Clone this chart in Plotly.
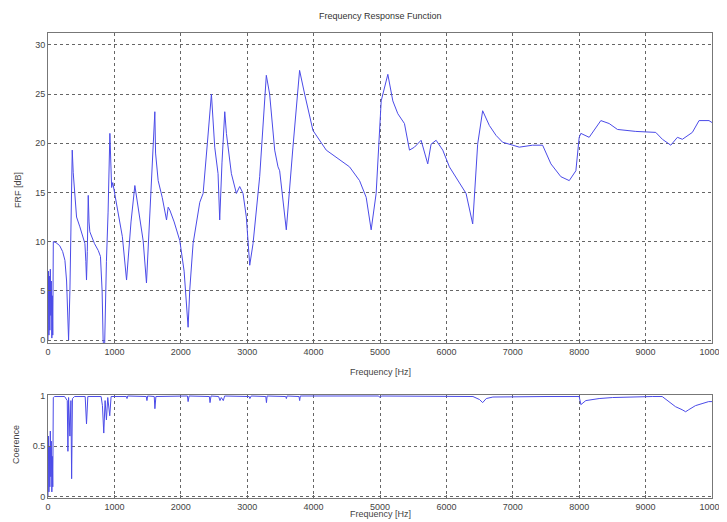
import plotly.graph_objects as go
from plotly.subplots import make_subplots

# FRF magnitude (dB) vs frequency (Hz)
frf_freq = [0, 8, 14, 20, 28, 35, 42, 50, 58, 65, 72, 80, 120, 175, 220, 255, 280, 300, 310, 330,
            350, 365, 380, 430, 480, 530, 556, 570, 580, 592, 606, 618, 630, 700, 757, 790, 815, 830,
            850, 880, 905, 932, 945, 958, 975, 1000, 1058, 1120, 1183, 1250, 1308, 1370, 1433, 1483,
            1540, 1609, 1620, 1659, 1720, 1785, 1810, 1835, 1900, 1985, 2050, 2110, 2135, 2185, 2286,
            2336, 2400, 2461, 2511, 2561, 2586, 2620, 2662, 2687, 2762, 2837, 2887, 2937, 2987, 3038,
            3088, 3188, 3288, 3338, 3414, 3464, 3489, 3589, 3689, 3789, 3865, 3990, 4190, 4341, 4541,
            4692, 4792, 4867, 4942, 5018, 5118, 5193, 5268, 5368, 5444, 5519, 5619, 5719, 5769, 5845,
            5945, 6045, 6195, 6296, 6396, 6471, 6546, 6647, 6747, 6847, 7000, 7098, 7298, 7449, 7574,
            7724, 7850, 7950, 8000, 8025, 8150, 8326, 8451, 8576, 8852, 9153, 9253, 9379, 9479, 9554,
            9704, 9805, 9955, 10000]
frf_db = [0, 7.0, 0.5, 6.5, 1.0, 7.2, 2.5, 6.0, 0.2, 4.5, 0.5, 10.0, 9.9, 9.6, 9.0, 8.1, 6.0, 2.0, 0.0, 5.0,
          13.0, 19.3, 17.0, 12.5, 11.5, 10.3, 9.8, 8.0, 6.1, 9.0, 14.7, 12.0, 11.0, 9.8, 9.1, 8.5, 5.0, 0.0,
          -1.5, 8.0, 13.0, 21.0, 17.0, 15.5, 16.0, 15.0, 13.0, 10.5, 6.1, 12.0, 15.7, 13.0, 10.1, 5.8,
          14.0, 23.2, 19.0, 16.2, 14.5, 12.2, 13.5, 13.2, 12.0, 10.1, 7.0, 1.3, 5.1, 9.8, 14.0,
          14.9, 20.0, 25.0, 19.6, 16.9, 12.2, 18.0, 23.2, 21.0, 16.9, 14.9, 15.6, 14.9, 12.5, 7.6,
          9.8, 16.6, 26.9, 25.0, 19.3, 17.6, 17.2, 11.2, 19.6, 27.4, 25.0, 21.3, 19.3, 18.6, 17.6,
          16.2, 14.5, 11.2, 14.9, 24.3, 27.0, 24.3, 23.0, 22.0, 19.3, 19.6, 20.3, 17.9, 19.9, 20.3,
          19.3, 17.6, 15.9, 14.9, 11.8, 19.9, 23.3, 21.8, 20.8, 20.1, 19.8, 19.6, 19.8, 19.8, 17.9,
          16.6, 16.2, 17.2, 20.6, 21.0, 20.6, 22.3, 22.0, 21.4, 21.2, 21.1, 20.4, 19.8, 20.6, 20.4,
          21.1, 22.3, 22.3, 22.1]

# Coherence vs frequency (Hz)
coh_freq = [0, 8, 14, 20, 28, 35, 42, 50, 58, 65, 72, 80, 100, 250, 290, 300, 310, 330, 345, 356, 368,
            400, 560, 580, 600, 800, 820, 840, 860, 880, 900, 930, 950, 1180, 1190, 1200, 1480, 1490,
            1500, 1600, 1610, 1625, 2100, 2110, 2125, 2430, 2440, 2455, 2570, 2590, 2610, 2640, 2660,
            3030, 3040, 3060, 3280, 3290, 3300, 3580, 3590, 3600, 3780, 3790, 3800, 4980, 5000, 5020,
            6400, 6500, 6546, 6600, 6700, 7200, 7300, 7500, 8000, 8025, 8100, 8300, 8500, 8700, 9100,
            9250, 9350, 9450, 9550, 9603, 9650, 9750, 9850, 9950, 10000]
coh_val = [0.0, 0.6, 0.05, 0.5, 0.1, 0.65, 0.2, 0.55, 0.05, 0.4, 0.1, 0.98, 0.99, 0.99, 0.95, 0.45, 0.98,
           0.6, 0.95, 0.18, 0.97, 0.99, 0.99, 0.72, 0.99, 0.99, 0.9, 0.63, 0.95, 0.76, 0.98, 0.8, 0.99,
           0.99, 0.97, 0.995, 0.99, 0.95, 0.995, 0.99, 0.87, 0.99, 0.995, 0.94, 0.995, 0.99, 0.93,
           0.995, 0.99, 0.95, 0.98, 0.95, 0.995, 0.99, 0.97, 0.995, 0.99, 0.93, 0.995, 0.99, 0.97,
           0.995, 0.99, 0.95, 0.995, 0.995, 0.98, 0.995, 0.99, 0.96, 0.93, 0.97, 0.985, 0.99, 0.995,
           0.99, 0.99, 0.91, 0.95, 0.97, 0.98, 0.985, 0.99, 0.99, 0.94, 0.89, 0.86, 0.84, 0.86, 0.9,
           0.92, 0.94, 0.94]

x_ticks = [0, 1000, 2000, 3000, 4000, 5000, 6000, 7000, 8000, 9000, 10000]
frf_yticks = [0, 5, 10, 15, 20, 25, 30]
coh_yticks = [0, 0.5, 1]

# page body adds an 8px offset; work in reference pixel coordinates and subtract it
OFF = 8
W, H = 727 - OFF, 522 - OFF
ml, mr, mt, mb = 48 - OFF, 15, 33 - OFF, 24
ph = H - mt - mb
pw = W - ml - mr

def py(px):
    return (H - mb - (px - OFF)) / ph

def px_(x):
    return ((x - OFF) - ml) / pw

def dom(top_px, bot_px):
    return [py(bot_px), py(top_px)]

fig = make_subplots(rows=2, cols=1)
line_col = "#4b4be8"
fig.add_trace(go.Scatter(x=frf_freq, y=frf_db, mode="lines",
                         line=dict(color=line_col, width=1), showlegend=False), row=1, col=1)
fig.add_trace(go.Scatter(x=coh_freq, y=coh_val, mode="lines",
                         line=dict(color=line_col, width=1), showlegend=False), row=2, col=1)

font = dict(family="Liberation Sans, Arial, sans-serif", size=9, color="#444")
axcommon = dict(showline=True, mirror=True, linecolor="#777", linewidth=1,
                showgrid=True, gridcolor="#666", griddash="dot", gridwidth=1,
                zeroline=False, ticks="inside", ticklen=3, tickcolor="#666",
                tickfont=font, automargin=False)

fig.update_xaxes(range=[0, 10000], tickvals=x_ticks, ticktext=[str(t) for t in x_ticks], **axcommon)
fig.update_yaxes(**axcommon)
fig.update_layout(
    xaxis=dict(domain=[0, 1]),
    xaxis2=dict(domain=[0, 1]),
    yaxis=dict(domain=dom(33, 343), range=[-0.3, 31.2], tickvals=frf_yticks),
    yaxis2=dict(domain=dom(395, 498), range=[-0.01, 1.005], tickvals=coh_yticks,
                ticktext=["0", "0.5", "1"]),
)

fig.update_layout(
    width=W, height=H,
    margin=dict(l=ml, r=mr, t=mt, b=mb, autoexpand=False),
    paper_bgcolor="white", plot_bgcolor="white",
    font=font,
    annotations=[
        dict(text="Frequency Response Function", x=px_(380), y=py(16), xref="paper", yref="paper",
             showarrow=False, font=dict(family=font["family"], size=9, color="#333"),
             xanchor="center", yanchor="middle"),
        dict(text="Frequency [Hz]", x=px_(380), y=py(372), xref="paper", yref="paper",
             showarrow=False, font=font, xanchor="center", yanchor="middle"),
        dict(text="Frequency [Hz]", x=px_(380), y=py(514), xref="paper", yref="paper",
             showarrow=False, font=font, xanchor="center", yanchor="middle"),
        dict(text="FRF [dB]", x=px_(18), y=py(190), xref="paper", yref="paper",
             showarrow=False, font=font, textangle=-90, xanchor="center", yanchor="middle"),
        dict(text="Coerence", x=px_(16), y=py(445), xref="paper", yref="paper",
             showarrow=False, font=font, textangle=-90, xanchor="center", yanchor="middle"),
    ],
)

fig.write_html("out.html")
